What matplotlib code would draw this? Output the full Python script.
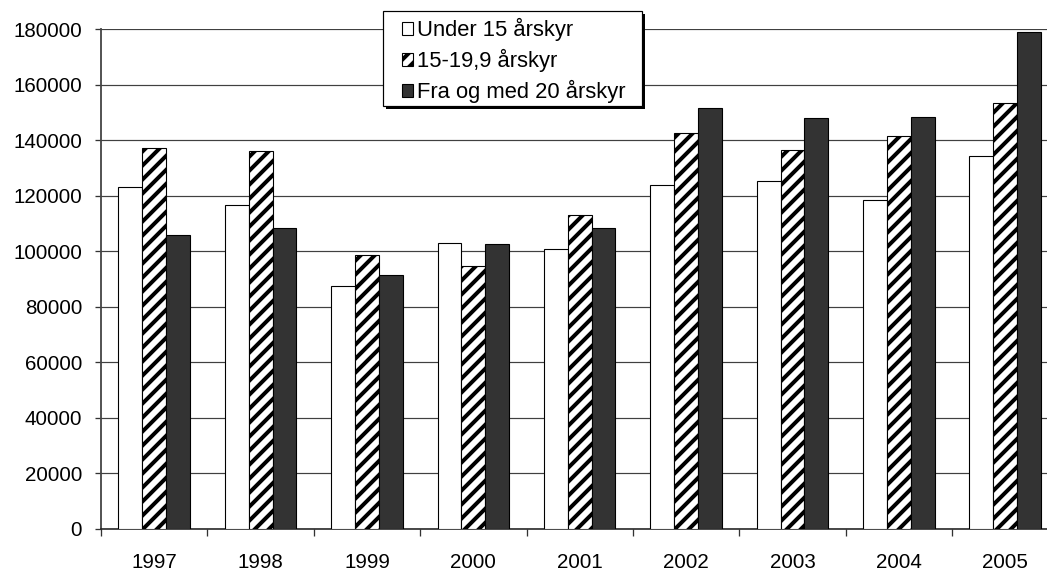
import numpy as np
import matplotlib
matplotlib.use("Agg")
from matplotlib import pyplot as plt
from matplotlib.patches import Rectangle

years = ["1997", "1998", "1999", "2000", "2001", "2002", "2003", "2004", "2005"]
under15 = [123000, 116500, 87500, 103000, 100700, 124000, 125300, 118400, 134200]
age15_19 = [137200, 136300, 98700, 94600, 113100, 142500, 136500, 141700, 153600]
over20 = [105800, 108300, 91400, 102700, 108400, 151500, 148100, 148300, 178900]
labels = ["Under 15 årskyr", "15-19,9 årskyr", "Fra og med 20 årskyr"]

# low dpi so the hatch stripes get the spacing of the original
DPI = 84


def px(n):
    # pixels -> points
    return n * 72.0 / DPI


plt.rcParams['font.family'] = ['Liberation Sans', 'DejaVu Sans']
plt.rcParams['hatch.linewidth'] = px(4)
plt.rcParams['hatch.color'] = 'black'

fig = plt.figure(figsize=(1047 / DPI, 570 / DPI), dpi=DPI)
ax = fig.add_axes([0.0965, 0.0725, 0.9144, 0.8761])

x = np.arange(len(years))
w = 0.224
ax.bar(x - w, under15, w, color='white', edgecolor='black', linewidth=px(1.1),
       label=labels[0], zorder=3)
ax.bar(x, age15_19, w, color='white', edgecolor='black', linewidth=px(1.1),
       hatch='//', label=labels[1], zorder=3)
ax.bar(x + w, over20, w, color='#333333', edgecolor='black', linewidth=px(1.1),
       label=labels[2], zorder=3)

ax.set_xlim(-0.5, len(years) - 0.5)
ax.set_ylim(0, 180000)
ax.set_yticks(np.arange(0, 180001, 20000))
ax.yaxis.grid(True, color='#404040', linewidth=px(1.2))
ax.set_axisbelow(True)

# labels in the middle, tick marks between the years
ax.set_xticks(x)
ax.set_xticklabels(years)
ax.set_xticks(np.arange(-0.5, len(years)), minor=True)
ax.tick_params(axis='x', which='major', length=0, pad=px(24), labelsize=px(20.5))
ax.tick_params(axis='x', which='minor', length=px(7), width=px(1.3), color='#333333')
ax.tick_params(axis='y', length=px(6), width=px(1.3), color='#333333', pad=px(13),
               labelsize=px(20.5))

for s in ['top', 'right']:
    ax.spines[s].set_visible(False)
ax.spines['left'].set_color('#444444')
ax.spines['left'].set_linewidth(px(1.8))
ax.spines['bottom'].set_color('#222222')
ax.spines['bottom'].set_linewidth(px(1.6))

leg = ax.legend(loc='upper left', bbox_to_anchor=(0.3144, 1.0226), borderaxespad=0,
                fontsize=px(22), frameon=False, handlelength=0.5,
                handleheight=0.5, handletextpad=0.2, labelspacing=0.36,
                borderpad=0)
for h in leg.legend_handles:
    h.set_linewidth(px(1.1))
leg.set_zorder(6)

# frame and shadow drawn by hand, wider padding at the sides than matplotlib gives
fig.canvas.draw()
bb = leg.get_window_extent(fig.canvas.get_renderer())
x0, y0 = bb.x0 - 19, bb.y0 - 3
x1, y1 = bb.x1 + 16, bb.y1 + 7
inv = ax.transAxes.inverted()
(ax0, ay0), (ax1, ay1) = inv.transform([(x0, y0), (x1, y1)])
(sx0, sy0), (sx1, sy1) = inv.transform([(x0 + 3, y0 - 3), (x1 + 3, y1 - 3)])
ax.add_patch(Rectangle((sx0, sy0), sx1 - sx0, sy1 - sy0, transform=ax.transAxes,
                       facecolor='black', edgecolor='none', clip_on=False, zorder=4))
ax.add_patch(Rectangle((ax0, ay0), ax1 - ax0, ay1 - ay0, transform=ax.transAxes,
                       facecolor='white', edgecolor='black', linewidth=px(1.2),
                       clip_on=False, zorder=5))

fig.savefig("out.png", dpi=DPI)
